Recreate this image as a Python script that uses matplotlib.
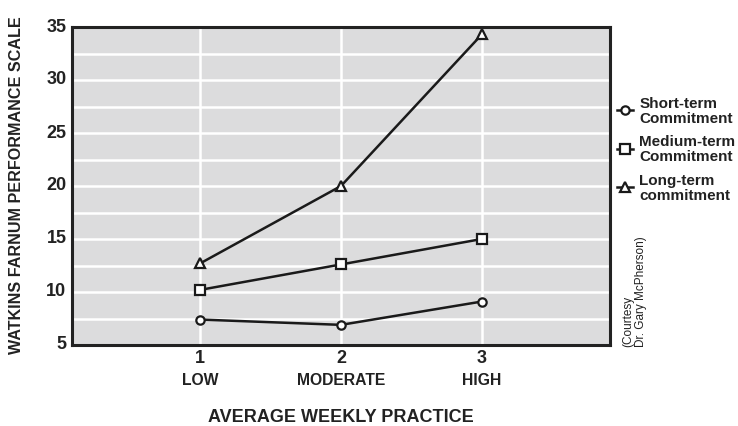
import matplotlib
matplotlib.use("Agg")
import matplotlib.pyplot as plt
from matplotlib.ticker import MultipleLocator
import matplotlib.transforms as mtransforms

plt.rcParams['font.family'] = ['Liberation Sans', 'DejaVu Sans']

practice = [1, 2, 3]
practice_levels = ["LOW", "MODERATE", "HIGH"]
short_term = [7.4, 6.9, 9.1]
medium_term = [10.2, 12.6, 15.0]
long_term = [12.7, 20.0, 34.3]
series_labels = ["Short-term\nCommitment", "Medium-term\nCommitment", "Long-term\ncommitment"]
y_ticks = [5, 10, 15, 20, 25, 30, 35]

fig = plt.figure(figsize=(7.38, 4.27), dpi=100)
ax = fig.add_axes([72/738, 1-346/427, (610-72)/738, (346-28)/427])
ax.set_facecolor('#dcdcdd')

ax.set_xlim(0.09, 3.91)
ax.set_ylim(5, 35)
ax.set_xticks(practice)
ax.set_yticks(y_ticks)
ax.yaxis.set_minor_locator(MultipleLocator(2.5))
ax.grid(True, which='both', color='white', linewidth=1.8)
ax.set_axisbelow(True)
ax.tick_params(axis='both', which='both', length=0)
ax.tick_params(axis='y', pad=4)
ax.tick_params(axis='x', pad=3)
for lab in ax.get_xticklabels() + ax.get_yticklabels():
    lab.set_fontweight('bold')
    lab.set_fontsize(13)
    lab.set_color('#222222')
off = mtransforms.ScaledTranslation(0, 3/100, fig.dpi_scale_trans)
for lab in ax.get_yticklabels():
    lab.set_transform(lab.get_transform() + off)

for s in ax.spines.values():
    s.set_linewidth(2.2)
    s.set_color('#222222')

kw = dict(color='#1a1a1a', linewidth=1.8, markerfacecolor='white',
          markeredgecolor='#1a1a1a', markeredgewidth=1.6)
l1, = ax.plot(practice, short_term, marker='o', markersize=6, label=series_labels[0], **kw)
l2, = ax.plot(practice, medium_term, marker='s', markersize=7.5, label=series_labels[1], **kw)
l3, = ax.plot(practice, long_term, marker='^', markersize=7.5, label=series_labels[2], **kw)

for x, name in zip(practice, practice_levels):
    ax.text(x, -0.107, name, transform=ax.get_xaxis_transform(), ha='center', va='center',
            fontsize=11.3, fontweight='bold', color='#222222')

ax.text(0.5, -0.225, "AVERAGE WEEKLY PRACTICE", transform=ax.transAxes, ha='center', va='center',
        fontsize=13, fontweight='bold', color='#222222')
ax.text(-0.104, 0.506, "WATKINS FARNUM PERFORMANCE SCALE", transform=ax.transAxes, ha='center',
        va='center', rotation=90, fontsize=11.6, fontweight='bold', color='#222222')

leg = fig.legend(handles=[l1, l2, l3], loc='upper left', bbox_to_anchor=(617/738, 1-97/427),
                 frameon=False, borderpad=0, borderaxespad=0, handlelength=1.05,
                 handletextpad=0.42, labelspacing=0.65,
                 prop={'weight': 'bold', 'size': 11})
for t in leg.get_texts():
    t.set_linespacing(1.05)
    t.set_color('#222222')

fig.text(622/738, 1-347/427, "(Courtesy\nDr. Gary McPherson)", rotation=90, ha='left', va='bottom',
         fontsize=8.5, color='#222222', linespacing=1.15, multialignment='left')

fig.savefig("out.png", dpi=100)
